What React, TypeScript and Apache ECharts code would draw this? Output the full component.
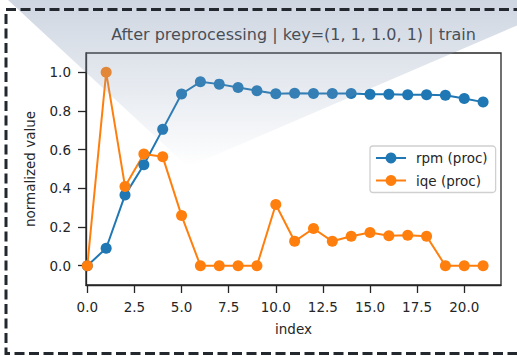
import React, { useEffect, useRef } from "react";
import * as echarts from "echarts";

const indexValues = [0, 1, 2, 3, 4, 5, 6, 7, 8, 9, 10, 11, 12, 13, 14, 15, 16, 17, 18, 19, 20, 21];
const rpmProc = [0, 0.09, 0.365, 0.522, 0.705, 0.888, 0.951, 0.939, 0.922, 0.905, 0.889, 0.892, 0.89, 0.89, 0.89, 0.886, 0.886, 0.884, 0.884, 0.882, 0.865, 0.846];
const iqeProc = [0, 1.0, 0.41, 0.578, 0.563, 0.259, 0, 0, 0, 0, 0.316, 0.126, 0.192, 0.126, 0.152, 0.172, 0.155, 0.157, 0.152, 0, 0, 0];
const xTicks = [0, 2.5, 5, 7.5, 10, 12.5, 15, 17.5, 20];
const yTicks = [0, 0.2, 0.4, 0.6, 0.8, 1.0];
const seriesNames = ["rpm (proc)", "iqe (proc)"];
const titleText = "After preprocessing | key=(1, 1, 1.0, 1) | train";

const FONT = "DejaVu Sans";
const TXT = "#262626";

export default function App() {
  const ref = useRef<HTMLDivElement>(null);
  useEffect(() => {
    if (!ref.current) return;
    const chart = echarts.init(ref.current, undefined, { renderer: "svg" });
    const mk = (ys: number[]) => indexValues.map((x, i) => [x, ys[i]]);
    const axisCommon = {
      axisLine: { show: true, onZero: false, lineStyle: { color: TXT, width: 1.3 } },
      axisTick: { show: true, length: 8, lineStyle: { color: TXT, width: 1.3 } },
      splitLine: { show: false },
      nameTextStyle: { fontFamily: FONT, fontSize: 13.5, color: TXT },
    };
    chart.setOption({
      animation: false,
      backgroundColor: "#ffffff",
      textStyle: { fontFamily: FONT },
      grid: {
        left: 86,
        right: 16,
        top: 53,
        bottom: 71,
        show: true,
        borderColor: TXT,
        borderWidth: 1.3,
        backgroundColor: "transparent",
        containLabel: false,
        outerBoundsMode: "none",
      },
      xAxis: {
        type: "value",
        min: -0.07,
        max: 21.95,
        name: "index",
        nameLocation: "middle",
        nameGap: 37,
        ...axisCommon,
        axisTick: { ...axisCommon.axisTick, customValues: xTicks },
        axisLabel: {
          customValues: xTicks,
          margin: 15,
          fontFamily: FONT,
          fontSize: 13.5,
          color: TXT,
          formatter: (v: number) => v.toFixed(1),
        },
      },
      yAxis: {
        type: "value",
        min: -0.1,
        max: 1.1,
        name: "normalized value",
        nameLocation: "middle",
        nameGap: 49,
        ...axisCommon,
        axisTick: { ...axisCommon.axisTick, customValues: yTicks },
        axisLabel: {
          customValues: yTicks,
          margin: 15,
          fontFamily: FONT,
          fontSize: 13.5,
          color: TXT,
          formatter: (v: number) => v.toFixed(1),
        },
      },
      legend: {
        orient: "vertical",
        left: 370,
        top: 146,
        padding: [5, 8, 5, 5],
        itemWidth: 30,
        itemHeight: 13.5,
        itemGap: 8.5,
        backgroundColor: "#ffffff",
        borderColor: "#d0d0d0",
        borderWidth: 1.3,
        borderRadius: 3,
        textStyle: { fontFamily: FONT, fontSize: 13.5, color: TXT, padding: [0, 0, 0, 5] },
        data: seriesNames,
      },
      series: [
        {
          name: seriesNames[0],
          type: "line",
          data: mk(rpmProc),
          color: "#1f77b4",
          symbol: "circle",
          symbolSize: 11,
          lineStyle: { width: 2 },
          clip: true,
        },
        {
          name: seriesNames[1],
          type: "line",
          data: mk(iqeProc),
          color: "#ff7f0e",
          symbol: "circle",
          symbolSize: 11,
          lineStyle: { width: 2 },
          clip: true,
        },
      ],
      graphic: [
        {
          type: "text",
          x: 293.5,
          y: 34,
          z: 10,
          style: {
            text: titleText,
            fontFamily: FONT,
            fontSize: 16,
            fill: TXT,
            textAlign: "center",
            textVerticalAlign: "middle",
            verticalAlign: "middle",
          },
        },
        {
          type: "polygon",
          z: 100,
          silent: true,
          shape: { points: [[8, 0], [540, 0], [540, 15.5], [188, 167]] },
          style: {
            fill: new echarts.graphic.LinearGradient(0, 0, 0, 1, [
              { offset: 0, color: "rgba(140,158,185,0.42)" },
              { offset: 0.6, color: "rgba(140,158,185,0.18)" },
              { offset: 1, color: "rgba(140,158,185,0)" },
            ]),
          },
        },
        {
          type: "rect",
          z: 110,
          silent: true,
          shape: { x: 6, y: 9.5, width: 700, height: 344 },
          style: { fill: "none", stroke: "#23282f", lineWidth: 3, lineDash: [10, 4.5] },
        },
      ],
    });
    return () => chart.dispose();
  }, []);
  return (
    <div
      ref={ref}
      style={{ position: "fixed", left: 0, top: 0, width: 517, height: 356, background: "#fff" }}
    />
  );
}
